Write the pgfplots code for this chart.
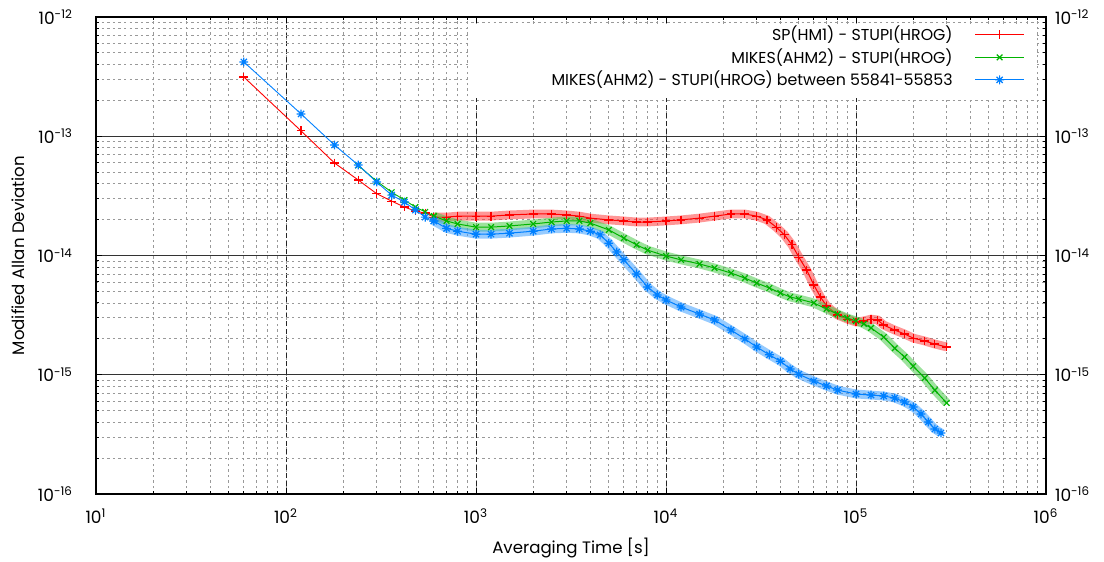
\documentclass[border=0pt]{standalone}
\usepackage{fontspec}
\setmainfont{Poppins}
\usepackage{pgfplots}
\usepackage{pgfplotstable}
\pgfplotsset{compat=1.18}

\definecolor{gred}{RGB}{255,0,0}
\definecolor{ggreen}{RGB}{0,180,0}
\definecolor{gblue}{RGB}{0,128,255}

% eight-armed asterisk (plus and cross combined)
\pgfdeclareplotmark{ast8}{%
  \pgfpathmoveto{\pgfqpoint{-\pgfplotmarksize}{0pt}}%
  \pgfpathlineto{\pgfqpoint{\pgfplotmarksize}{0pt}}%
  \pgfpathmoveto{\pgfqpoint{0pt}{-\pgfplotmarksize}}%
  \pgfpathlineto{\pgfqpoint{0pt}{\pgfplotmarksize}}%
  \pgfpathmoveto{\pgfqpoint{-.707\pgfplotmarksize}{-.707\pgfplotmarksize}}%
  \pgfpathlineto{\pgfqpoint{.707\pgfplotmarksize}{.707\pgfplotmarksize}}%
  \pgfpathmoveto{\pgfqpoint{-.707\pgfplotmarksize}{.707\pgfplotmarksize}}%
  \pgfpathlineto{\pgfqpoint{.707\pgfplotmarksize}{-.707\pgfplotmarksize}}%
  \pgfusepathqstroke}

% key sample: a gap after the text, then a line with one mark in its middle
\pgfplotsset{
  legend image code/.code={%
    \path (0pt,0pt);
    \draw[mark repeat=2,mark phase=2,#1]
      plot coordinates {(9pt,0pt) (21.25pt,0pt) (33.5pt,0pt)};},
}

% SP(HM1) - STUPI(HROG)
\pgfplotstableread{
tau adev
60 3.14e-13
120 1.11e-13
180 5.97e-14
240 4.30e-14
300 3.30e-14
360 2.86e-14
420 2.55e-14
480 2.36e-14
540 2.27e-14
600 2.10e-14
}\redA
\pgfplotstableread{
tau adev
600 2.10e-14
700 2.10e-14
800 2.14e-14
1000 2.14e-14
1200 2.14e-14
1500 2.19e-14
2000 2.23e-14
2500 2.23e-14
3000 2.19e-14
3500 2.14e-14
4000 2.06e-14
5000 1.99e-14
6000 1.95e-14
7000 1.91e-14
8000 1.91e-14
10000 1.95e-14
12000 1.99e-14
15000 2.06e-14
18000 2.14e-14
22000 2.23e-14
26000 2.23e-14
30000 2.14e-14
34000 1.99e-14
38000 1.73e-14
42000 1.49e-14
46000 1.23e-14
50000 9.70e-15
55000 7.55e-15
60000 5.66e-15
65000 4.49e-15
70000 3.77e-15
80000 3.17e-15
90000 2.93e-15
100000 2.77e-15
110000 2.83e-15
120000 2.93e-15
130000 2.88e-15
140000 2.61e-15
160000 2.37e-15
180000 2.20e-15
200000 2.03e-15
230000 1.92e-15
260000 1.81e-15
300000 1.71e-15
}\redB

% MIKES(AHM2) - STUPI(HROG)
\pgfplotstableread{
tau adev
240 5.70e-14
300 4.20e-14
360 3.40e-14
420 2.92e-14
480 2.55e-14
540 2.32e-14
600 2.14e-14
}\greenA
\pgfplotstableread{
tau adev
600 2.14e-14
700 1.95e-14
800 1.84e-14
1000 1.73e-14
1200 1.73e-14
1500 1.77e-14
2000 1.84e-14
2500 1.91e-14
3000 1.95e-14
3500 1.95e-14
4000 1.87e-14
5000 1.64e-14
6000 1.40e-14
7000 1.23e-14
8000 1.11e-14
10000 9.90e-15
12000 9.20e-15
15000 8.50e-15
18000 7.86e-15
22000 7.13e-15
26000 6.47e-15
30000 5.88e-15
35000 5.34e-15
40000 4.85e-15
45000 4.49e-15
50000 4.32e-15
60000 4.00e-15
70000 3.56e-15
80000 3.23e-15
90000 2.99e-15
100000 2.83e-15
110000 2.67e-15
120000 2.47e-15
140000 2.07e-15
160000 1.67e-15
180000 1.41e-15
200000 1.18e-15
230000 9.40e-16
260000 7.44e-16
300000 5.80e-16
}\greenB

% MIKES(AHM2) - STUPI(HROG) between 55841-55853
\pgfplotstableread{
tau adev
60 4.20e-13
120 1.54e-13
180 8.45e-14
240 5.74e-14
300 4.13e-14
360 3.21e-14
420 2.81e-14
480 2.41e-14
540 2.10e-14
600 1.95e-14
}\blueA
\pgfplotstableread{
tau adev
600 1.95e-14
700 1.69e-14
800 1.60e-14
1000 1.51e-14
1200 1.51e-14
1500 1.54e-14
2000 1.60e-14
2500 1.67e-14
3000 1.69e-14
3500 1.67e-14
4000 1.60e-14
4500 1.49e-14
5000 1.27e-14
5500 1.07e-14
6000 9.20e-15
7000 7.00e-15
8000 5.45e-15
9000 4.67e-15
10000 4.24e-15
12000 3.70e-15
15000 3.23e-15
18000 2.88e-15
22000 2.37e-15
26000 2.00e-15
30000 1.71e-15
35000 1.47e-15
40000 1.30e-15
45000 1.12e-15
50000 1.01e-15
60000 8.86e-16
70000 8.05e-16
80000 7.44e-16
100000 6.90e-16
120000 6.76e-16
140000 6.64e-16
160000 6.38e-16
180000 5.91e-16
200000 5.37e-16
220000 4.69e-16
240000 4.02e-16
260000 3.51e-16
280000 3.25e-16
}\blueB

\begin{document}
\begin{tikzpicture}
% right-hand copy of the y tick labels
\begin{axis}[
  xmode=log, ymode=log,
  scale only axis,
  width=475pt, height=238.5pt,
  xmin=10, xmax=1e6, ymin=1e-16, ymax=1e-12,
  xtick=\empty,
  ytick={1e-16,1e-15,1e-14,1e-13,1e-12},
  yticklabels={10\textsuperscript{-16},10\textsuperscript{-15},10\textsuperscript{-14},10\textsuperscript{-13},10\textsuperscript{-12}},
  yticklabel style={font=\fontsize{8.5}{10}\selectfont},
  yticklabel pos=right,
  yticklabel shift=1pt,
  minor y tick num=0,
  axis line style={draw=none},
  major tick length=0pt, minor tick length=0pt,
]
\addplot[draw=none, forget plot] coordinates {(100,1e-14)};
\end{axis}

\begin{axis}[
  xmode=log, ymode=log,
  scale only axis,
  width=475pt, height=238.5pt,
  xmin=10, xmax=1e6, ymin=1e-16, ymax=1e-12,
  xtick={10,100,1000,10000,100000,1000000},
  ytick={1e-16,1e-15,1e-14,1e-13,1e-12},
  xticklabels={10\textsuperscript{1},10\textsuperscript{2},10\textsuperscript{3},10\textsuperscript{4},10\textsuperscript{5},10\textsuperscript{6}},
  yticklabels={10\textsuperscript{-16},10\textsuperscript{-15},10\textsuperscript{-14},10\textsuperscript{-13},10\textsuperscript{-12}},
  ticklabel style={font=\fontsize{8.5}{10}\selectfont},
  xticklabel shift=4pt,
  yticklabel shift=8pt,
  tick align=inside,
  xtick pos=both, ytick pos=both,
  major tick length=3pt, minor tick length=1.6pt,
  tick style={black, line width=0.5pt},
  axis line style={black, line width=0.6pt},
  xmajorgrids, ymajorgrids, xminorgrids, yminorgrids,
  major x grid style={black!85, line width=0.5pt, dash pattern=on 2.5pt off 1.5pt},
  major y grid style={black!80, line width=0.6pt, solid},
  minor grid style={black!40, line width=0.45pt, dash pattern=on 1.2pt off 1.6pt},
  xlabel={Averaging Time [s]},
  ylabel={Modified Allan Deviation},
  label style={font=\fontsize{8.3}{10}\selectfont},
  xlabel style={at={(axis description cs:0.5,0)}, anchor=center, yshift=-27pt},
  ylabel style={at={(axis description cs:0,0.5)}, anchor=center, yshift=39pt},
  legend plot pos=right,
  legend cell align=right,
  legend style={at={(rel axis cs:0.9905,0.997)}, anchor=north east,
    draw=none, fill=none, font=\fontsize{7.9}{9}\selectfont,
    nodes={inner ysep=1pt},
    row sep=0.4pt, inner xsep=6pt, inner ysep=2.5pt},
]
% white key background
\fill[white] (rel axis cs:0.3925,0.830) rectangle (rel axis cs:0.9905,0.986);

% red: SP(HM1)
\addplot[gred, line width=0.45pt, mark=+, mark size=2.2pt, mark options={line width=0.6pt}]
  table[x=tau,y=adev]{\redA};
\addlegendentry{SP(HM1) - STUPI(HROG)}
\addplot[gred!75, line width=4.4pt, opacity=0.55, forget plot] table[x=tau,y=adev]{\redB};
\addplot[gred, line width=0.5pt, mark=+, mark size=2.2pt, mark options={line width=0.6pt}, forget plot]
  table[x=tau,y=adev]{\redB};

% green: MIKES(AHM2)
\addplot[ggreen, line width=0.45pt, mark=x, mark size=2pt, mark options={line width=0.6pt}]
  table[x=tau,y=adev]{\greenA};
\addlegendentry{MIKES(AHM2) - STUPI(HROG)}
\addplot[ggreen!70, line width=4.4pt, opacity=0.55, forget plot] table[x=tau,y=adev]{\greenB};
\addplot[ggreen, line width=0.5pt, mark=x, mark size=2pt, mark options={line width=0.6pt}, forget plot]
  table[x=tau,y=adev]{\greenB};

% blue: MIKES(AHM2), restricted interval
\addplot[gblue, line width=0.45pt, mark=ast8, mark size=2.2pt, mark options={line width=0.6pt}]
  table[x=tau,y=adev]{\blueA};
\addlegendentry{MIKES(AHM2) - STUPI(HROG) between 55841-55853}
\addplot[gblue!75, line width=4.4pt, opacity=0.55, forget plot] table[x=tau,y=adev]{\blueB};
\addplot[gblue, line width=0.5pt, mark=ast8, mark size=2.2pt, mark options={line width=0.6pt}, forget plot]
  table[x=tau,y=adev]{\blueB};
\end{axis}

\pgfresetboundingbox
\path (-48pt,-34pt) rectangle (504pt,247pt);
\end{tikzpicture}
\end{document}
